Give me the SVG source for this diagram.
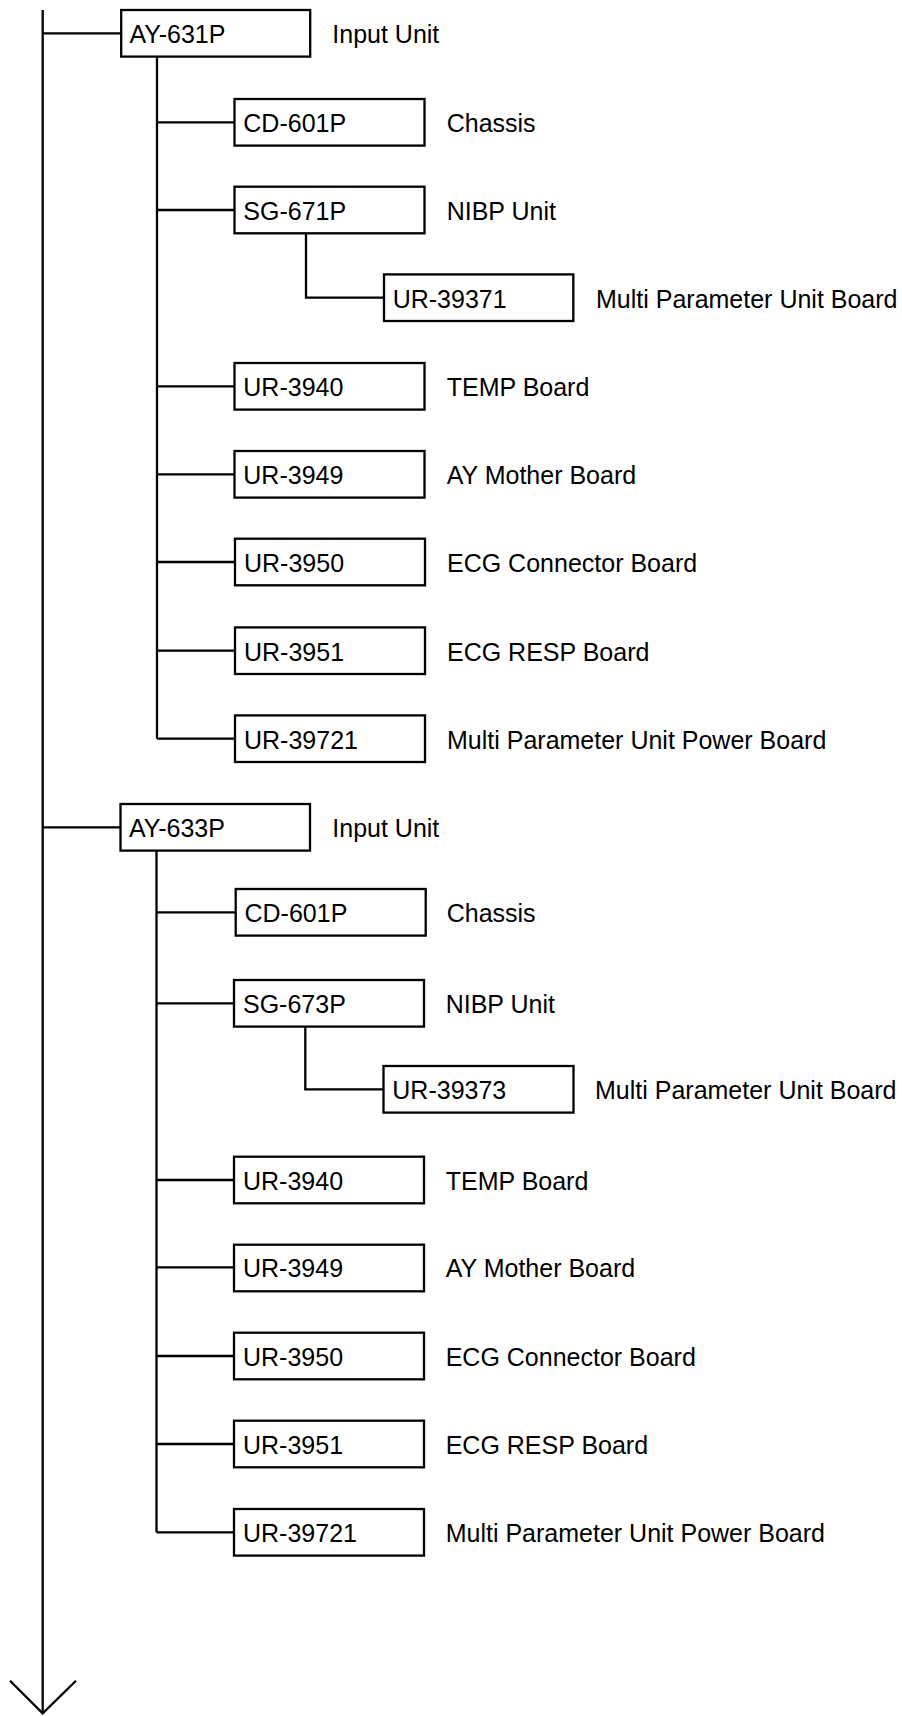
<svg xmlns="http://www.w3.org/2000/svg" width="902" height="1716" viewBox="0 0 902 1716">
<style>
  .box { fill: #ffffff; stroke: #000000; stroke-width: 2.3; }
  .code { font-family: "Liberation Sans", Arial, Helvetica, sans-serif; font-size: 25px; fill: #000000; }
  .lbl { font-family: "Liberation Sans", Arial, Helvetica, sans-serif; font-size: 25px; fill: #000000; }
  .wire { fill: none; stroke: #000000; stroke-width: 2.3; }
  .t { transform: translate(0px, 1px); }
</style>
<rect x="0" y="0" width="902" height="1716" fill="#ffffff"/>
<g id="connectors">
  <path class="wire" d="M42.7 10 V1713"/>
  <path class="wire" d="M10 1680.7 L42.7 1713.3 L76 1680.7" stroke-width="2"/>
  <path class="wire" d="M42.7 33.3 H121.2"/>
  <path class="wire" d="M157 56.7 V738.7"/>
  <path class="wire" d="M157 122.3 H234.5 M157 210 H234.5 M157 386.3 H234.5 M157 474.3 H234.5 M157 562 H234.5 M157 650.7 H234.5 M157 738.7 H234.5"/>
  <path class="wire" d="M306 233.3 V297.7 H384"/>
  <path class="wire" d="M42.7 827.3 H120.5"/>
  <path class="wire" d="M156.5 850.7 V1532.3"/>
  <path class="wire" d="M156.5 912.3 H235.7 M156.5 1003.3 H234 M156.5 1180 H234 M156.5 1267.3 H234 M156.5 1356 H234 M156.5 1444 H234 M156.5 1532.3 H234"/>
  <path class="wire" d="M305.3 1027 V1089.3 H383.5"/>
</g>

<g id="node-AY-631P"><rect class="box" x="121.2" y="10" width="189" height="46.6"/><text class="code" x="129.5" y="43.3">AY-631P</text><text class="lbl" x="332.3" y="43.3">Input Unit</text></g>
<g id="node-CD-601P-1"><rect class="box" x="234.5" y="99" width="190" height="46.6"/><text class="code" x="243.3" y="132.3">CD-601P</text><text class="lbl" x="446.7" y="132.3">Chassis</text></g>
<g id="node-SG-671P"><rect class="box" x="234.5" y="186.7" width="190" height="46.6"/><text class="code" x="243.3" y="220">SG-671P</text><text class="lbl" x="446.7" y="220">NIBP Unit</text></g>
<g id="node-UR-39371"><rect class="box" x="384" y="274.4" width="189.3" height="46.6"/><text class="code" x="392.7" y="307.7">UR-39371</text><text class="lbl" x="596" y="307.7">Multi Parameter Unit Board</text></g>
<g id="node-UR-3940-1"><rect class="box" x="234.5" y="363" width="190" height="46.6"/><text class="code" x="243.3" y="396.3">UR-3940</text><text class="lbl" x="446.7" y="396.3">TEMP Board</text></g>
<g id="node-UR-3949-1"><rect class="box" x="234.5" y="451" width="190" height="46.6"/><text class="code" x="243.3" y="484.3">UR-3949</text><text class="lbl" x="446.7" y="484.3">AY Mother Board</text></g>
<g id="node-UR-3950-1"><rect class="box" x="235" y="538.7" width="190" height="46.6"/><text class="code" x="244" y="572">UR-3950</text><text class="lbl" x="447" y="572">ECG Connector Board</text></g>
<g id="node-UR-3951-1"><rect class="box" x="235" y="627.4" width="190" height="46.6"/><text class="code" x="244" y="660.7">UR-3951</text><text class="lbl" x="447" y="660.7">ECG RESP Board</text></g>
<g id="node-UR-39721-1"><rect class="box" x="235" y="715.4" width="190" height="46.6"/><text class="code" x="244" y="748.7">UR-39721</text><text class="lbl" x="447" y="748.7">Multi Parameter Unit Power Board</text></g>

<g id="node-AY-633P"><rect class="box" x="120.5" y="804" width="189.5" height="46.6"/><text class="code" x="129" y="837.3">AY-633P</text><text class="lbl" x="332.3" y="837.3">Input Unit</text></g>
<g id="node-CD-601P-2"><rect class="box" x="235.7" y="889" width="190" height="46.6"/><text class="code" x="244.5" y="922.3">CD-601P</text><text class="lbl" x="446.7" y="922.3">Chassis</text></g>
<g id="node-SG-673P"><rect class="box" x="234" y="980" width="190" height="46.6"/><text class="code" x="243" y="1013.3">SG-673P</text><text class="lbl" x="445.7" y="1013.3">NIBP Unit</text></g>
<g id="node-UR-39373"><rect class="box" x="383.5" y="1066" width="190" height="46.6"/><text class="code" x="392.3" y="1099.3">UR-39373</text><text class="lbl" x="595" y="1099.3">Multi Parameter Unit Board</text></g>
<g id="node-UR-3940-2"><rect class="box" x="234" y="1156.7" width="190" height="46.6"/><text class="code" x="243" y="1190">UR-3940</text><text class="lbl" x="445.7" y="1190">TEMP Board</text></g>
<g id="node-UR-3949-2"><rect class="box" x="234" y="1244.7" width="190" height="46.6"/><text class="code" x="243" y="1277.3">UR-3949</text><text class="lbl" x="445.7" y="1277.3">AY Mother Board</text></g>
<g id="node-UR-3950-2"><rect class="box" x="234" y="1332.7" width="190" height="46.6"/><text class="code" x="243" y="1366">UR-3950</text><text class="lbl" x="445.7" y="1366">ECG Connector Board</text></g>
<g id="node-UR-3951-2"><rect class="box" x="234" y="1420.7" width="190" height="46.6"/><text class="code" x="243" y="1454">UR-3951</text><text class="lbl" x="445.7" y="1454">ECG RESP Board</text></g>
<g id="node-UR-39721-2"><rect class="box" x="234" y="1509" width="190" height="46.6"/><text class="code" x="243" y="1542.3">UR-39721</text><text class="lbl" x="445.7" y="1542.3">Multi Parameter Unit Power Board</text></g>
</svg>
